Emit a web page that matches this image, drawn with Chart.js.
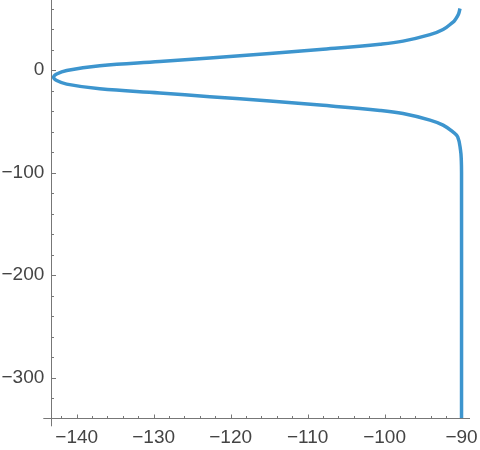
<!DOCTYPE html>
<html><head><meta charset="utf-8">
<script src="https://cdn.jsdelivr.net/npm/chart.js@4"></script>
<style>html,body{margin:0;padding:0;background:#fff}</style>
</head><body>
<canvas id="c" width="480" height="450"></canvas>
<script>
// Curve, ordered from top end to bottom end
const curveX = [-90.2, -90.4, -90.87, -91.1, -92.4, -94.1, -97.6, -100.6, -108.4, -114.9, -122.7, -129.2, -137.0, -141.3, -142.6, -143.0, -142.6, -141.3, -137.0, -129.2, -122.7, -114.9, -108.4, -100.6, -97.6, -94.1, -92.4, -91.1, -90.5, -90.13, -90.03, -90.0, -90.0];
const curveY = [60.0, 54.4, 48.6, 46.8, 39.5, 34.5, 28.2, 25.2, 20.0, 16.1, 11.8, 8.3, 4.2, -0.4, -3.9, -7.1, -10.3, -13.8, -18.4, -22.4, -26.0, -30.3, -34.2, -39.4, -42.5, -48.9, -53.8, -60.5, -65.3, -78.2, -88.0, -100.0, -339.7];
const xTickLabels = [-140, -130, -120, -110, -100, -90];
const yTickLabels = [0, -100, -200, -300];

const points = curveX.map((x, i) => ({x: x, y: curveY[i]}));
const fmt = v => v < 0 ? '\u2212' + Math.abs(v) : String(v);
const AXIS = '#777';
const TEXT = '#444';
const FONT = {family: "'Liberation Sans', Arial, sans-serif", size: 19};

const axesPlugin = {
  id: 'mmaAxes',
  beforeDatasetsDraw(chart) {
    const {ctx} = chart;
    const xs = chart.scales.x, ys = chart.scales.y;
    const ay = Math.floor(ys.bottom) + 0.5;
    const ax = Math.floor(xs.left) + 0.5;
    ctx.save();
    ctx.strokeStyle = AXIS;
    ctx.lineWidth = 1;
    ctx.beginPath();
    ctx.moveTo(xs.left - 8, ay); ctx.lineTo(xs.right, ay);
    ctx.moveTo(ax, ys.top); ctx.lineTo(ax, ys.bottom + 8);
    xs.ticks.forEach(t => {
      const px = Math.round(xs.getPixelForValue(t.value)) + 0.5;
      const len = xTickLabels.includes(t.value) ? 4 : 2.5;
      ctx.moveTo(px, ay); ctx.lineTo(px, ay - len);
    });
    ys.ticks.forEach(t => {
      const py = Math.round(ys.getPixelForValue(t.value)) + 0.5;
      const len = yTickLabels.includes(t.value) ? 4.5 : 2.5;
      ctx.moveTo(ax, py); ctx.lineTo(ax + len, py);
    });
    ctx.stroke();
    ctx.restore();
  }
};

new Chart(document.getElementById('c'), {
  type: 'scatter',
  data: {
    datasets: [{
      data: points,
      showLine: true,
      borderColor: '#3d95ce',
      borderWidth: 3.5,
      pointRadius: 0,
      tension: 0.4,
      borderCapStyle: 'butt',
      borderJoinStyle: 'round',
      fill: false
    }]
  },
  options: {
    responsive: false,
    animation: false,
    layout: {padding: {left: 0, right: 10, top: 0, bottom: 0}},
    plugins: {legend: {display: false}, tooltip: {enabled: false}},
    scales: {
      x: {
        type: 'linear', position: 'bottom', min: -143.3, max: -88.9,
        grid: {display: false, drawTicks: false}, border: {display: false},
        ticks: {
          stepSize: 2, includeBounds: false, autoSkip: false, maxRotation: 0, minRotation: 0,
          padding: 8, color: TEXT, font: FONT,
          callback: v => xTickLabels.includes(v) ? fmt(v) : ''
        },
        afterFit(s) { s.height = 31.7; s.paddingLeft = 0; s.paddingRight = 0; }
      },
      y: {
        type: 'linear', position: 'left', min: -339.8, max: 68.3,
        grid: {display: false, drawTicks: false}, border: {display: false},
        ticks: {
          stepSize: 20, includeBounds: false, autoSkip: false,
          padding: 7, color: TEXT, font: FONT,
          callback: v => yTickLabels.includes(v) ? fmt(v) : ''
        },
        afterFit(s) { s.width = 51.3; s.paddingTop = 0; s.paddingBottom = 0; }
      }
    }
  },
  plugins: [axesPlugin]
});
</script>
</body></html>
